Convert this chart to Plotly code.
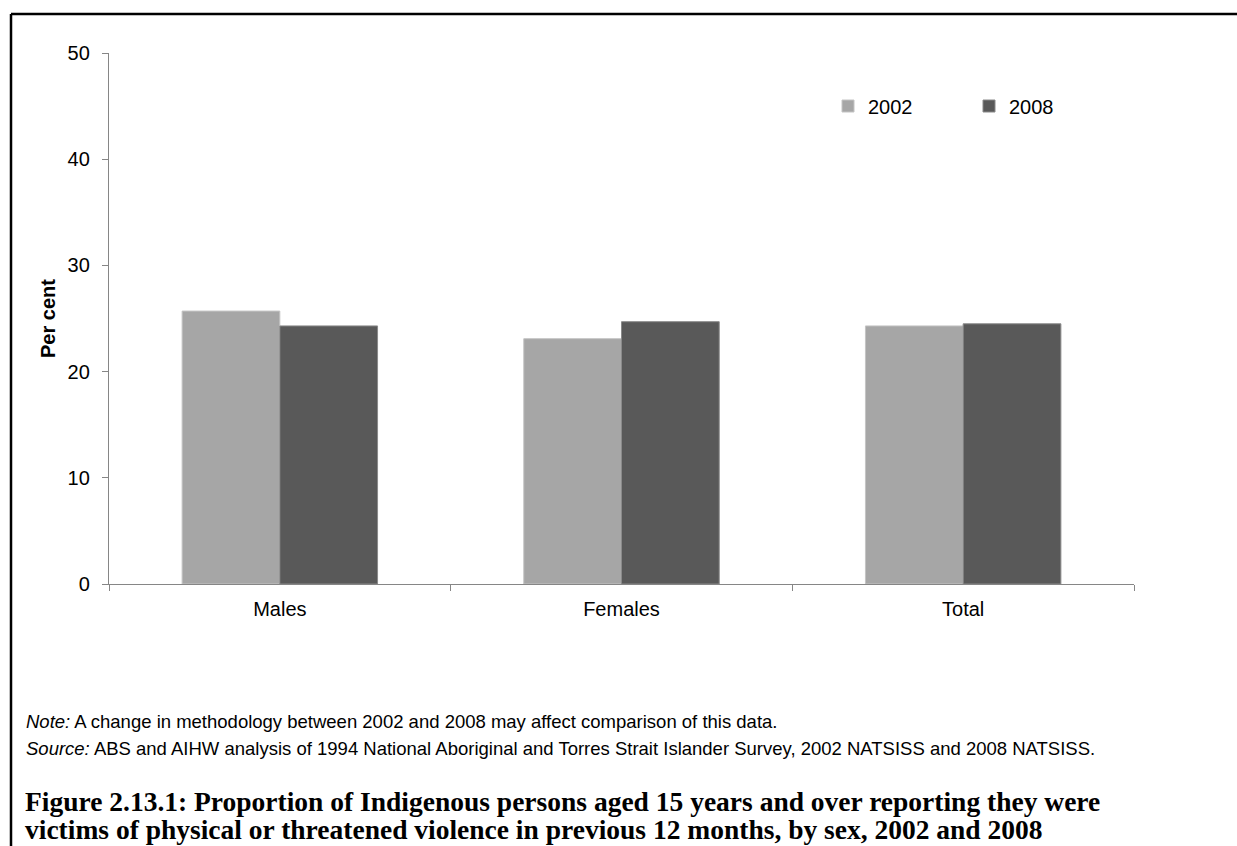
import plotly.graph_objects as go

# Survey categories and the proportion (%) reporting violence in each year
categories = ["Males", "Females", "Total"]
years = ["2002", "2008"]
pct_2002 = [25.7, 23.1, 24.3]
pct_2008 = [24.3, 24.7, 24.5]
y_ticks = [0, 10, 20, 30, 40, 50]

note_text = "<i>Note:</i> A change in methodology between 2002 and 2008 may affect comparison of this data."
source_text = ("<i>Source:</i> ABS and AIHW analysis of 1994 National Aboriginal and Torres Strait "
               "Islander Survey, 2002 NATSISS and 2008 NATSISS.")
caption_lines = [
    "Figure 2.13.1: Proportion of Indigenous persons aged 15 years and over reporting they were",
    "victims of physical or threatened violence in previous 12 months, by sex, 2002 and 2008",
]

W, H = 1237, 846
ML, MR, MT, MB = 109, 103, 53, 262
PW, PH = W - ML - MR, H - MT - MB


def px_x(x):
    return (x - ML) / PW


def px_y(y):
    return (H - MB - y) / PH


SANS = "Arial, Liberation Sans, sans-serif"
SERIF = "Book Antiqua, Palatino Linotype, Liberation Serif, serif"
AXIS_GREY = "#868686"

fig = go.Figure()
fig.add_trace(go.Bar(name=years[0], x=categories, y=pct_2002,
                     marker=dict(color="#A6A6A6", line=dict(color="#C4C4C4", width=1))))
fig.add_trace(go.Bar(name=years[1], x=categories, y=pct_2008,
                     marker=dict(color="#595959", line=dict(color="#8A8A8A", width=1))))

fig.update_layout(
    width=W, height=H,
    margin=dict(l=ML, r=MR, t=MT, b=MB, pad=0),
    paper_bgcolor="white", plot_bgcolor="white",
    barmode="group", bargap=0.428, bargroupgap=0,
    font=dict(family=SANS, size=20, color="#000000"),
    legend=dict(orientation="h", x=px_x(828), y=px_y(106), xanchor="left", yanchor="middle",
                entrywidth=96, font=dict(size=20), bgcolor="rgba(0,0,0,0)",
                traceorder="normal"),
    showlegend=True,
)

fig.update_xaxes(type="category", showline=True, linecolor=AXIS_GREY, linewidth=1.3,
                 ticks="outside", tickson="boundaries", ticklen=6, tickcolor=AXIS_GREY,
                 tickwidth=1.3, showgrid=False, zeroline=False, ticklabelstandoff=7,
                 tickfont=dict(size=20))
fig.update_yaxes(range=[0, 50], tickvals=y_ticks, showline=True, linecolor=AXIS_GREY,
                 linewidth=1.3, ticks="outside", ticklen=6, tickcolor=AXIS_GREY, tickwidth=1.3,
                 showgrid=False, zeroline=False, ticklabelstandoff=8,
                 tickfont=dict(size=20),
                 title=dict(text="<b>Per cent</b>", font=dict(size=20), standoff=6))

# Footnotes beneath the chart
fig.add_annotation(text=note_text, xref="paper", yref="paper", x=px_x(24), y=px_y(721),
                   xanchor="left", yanchor="middle", showarrow=False, align="left",
                   font=dict(family=SANS, size=18.5, color="#000000"))
fig.add_annotation(text=source_text, xref="paper", yref="paper", x=px_x(24), y=px_y(748),
                   xanchor="left", yanchor="middle", showarrow=False, align="left",
                   font=dict(family=SANS, size=18.5, color="#000000"))

# Figure caption, one annotation per line for tight leading
for text, yc in zip(caption_lines, [801, 829]):
    fig.add_annotation(text="<b>" + text + "</b>", xref="paper", yref="paper",
                       x=px_x(23), y=px_y(yc), xanchor="left", yanchor="middle",
                       showarrow=False, align="left",
                       font=dict(family=SERIF, size=27.5, color="#000000"))

# Page frame: top and left rules
fig.add_shape(type="line", xref="paper", yref="paper", x0=px_x(11), x1=px_x(1240),
              y0=px_y(14), y1=px_y(14), line=dict(color="black", width=2.5))
fig.add_shape(type="line", xref="paper", yref="paper", x0=px_x(11), x1=px_x(11),
              y0=px_y(14), y1=px_y(850), line=dict(color="black", width=2.5))

fig.write_html("out.html")
